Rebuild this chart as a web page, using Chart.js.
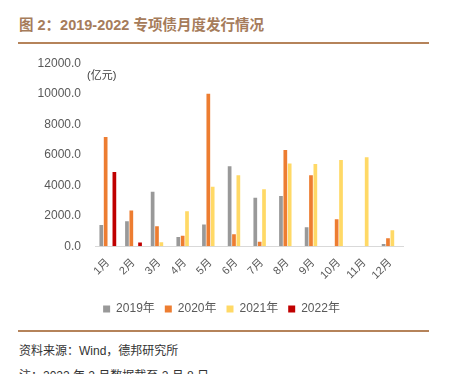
<!DOCTYPE html>
<html>
<head>
<meta charset="utf-8">
<script src="https://cdn.jsdelivr.net/npm/chart.js@4"></script>
<style>
  body { margin: 0; width: 454px; height: 374px; overflow: hidden; background: #fff;
         font-family: "Liberation Sans", "Noto Sans CJK SC", sans-serif; position: relative; }
  .title { position: absolute; left: 19px; top: 13px; font-size: 14.5px; font-weight: bold; color: #A67C5B; }
  .rule { position: absolute; left: 18px; width: 411px; height: 2px; background: #B5835A; }
  .unit { position: absolute; left: 87px; top: 66px; font-size: 11px; color: #404040; }
  .src { position: absolute; left: 19px; font-size: 12px; color: #333; }
  #wrap { position: absolute; left: 0; top: 50px; width: 454px; height: 275px; }
</style>
</head>
<body>
<div class="title">图 2：2019-2022 专项债月度发行情况</div>
<div class="rule" style="top:42px"></div>
<div id="wrap"><canvas id="myChart"></canvas></div>
<div class="unit">(亿元)</div>
<div class="rule" style="top:330px"></div>
<div class="src" style="top:341px">资料来源：Wind，德邦研究所</div>
<div class="src" style="top:366px">注：2022 年 2 月数据截至 2 月 8 日</div>
<script>
const months = ['1月', '2月', '3月', '4月', '5月', '6月', '7月', '8月', '9月', '10月', '11月', '12月'];
const y2019 = [1400, 1640, 3570, 610, 1420, 5250, 3180, 3290, 1250, 0, 0, 150];
const y2020 = [7160, 2340, 1310, 680, 10000, 790, 300, 6310, 4660, 1770, 0, 530];
const y2021 = [0, 0, 260, 2300, 3900, 4660, 3740, 5430, 5390, 5650, 5830, 1050];
const y2022 = [4860, 240, null, null, null, null, null, null, null, null, null, null];
const seriesNames = ['2019年', '2020年', '2021年', '2022年'];
const colors = ['#999999', '#ED7D31', '#FFD966', '#C00000'];

const ctx = document.getElementById('myChart').getContext('2d');
const font = { family: '"Liberation Sans", "Noto Sans CJK SC", sans-serif' };

// move the legend so it is centred on the page, not on the plot
const legendShift = {
  id: 'legendShift',
  afterLayout(chart) {
    chart.legend.left += 20;
    chart.legend.right += 20;
  },
};

const chart = new Chart(ctx, {
  type: 'bar',
  data: {
    labels: months,
    datasets: [y2019, y2020, y2021, y2022].map((d, i) => ({
      label: seriesNames[i],
      data: d,
      backgroundColor: colors[i],
      barPercentage: 0.85,
      categoryPercentage: 0.68,
    })),
  },
  plugins: [legendShift],
  options: {
    responsive: true,
    maintainAspectRatio: false,
    animation: false,
    layout: { padding: { left: 0, right: 51, top: 2 } },
    plugins: {
      legend: {
        position: 'bottom',
        labels: {
          boxWidth: 7,
          boxHeight: 7,
          padding: 10,
          color: '#595959',
          font: { ...font, size: 12 },
        },
      },
      tooltip: { enabled: false },
    },
    scales: {
      x: {
        grid: { display: false },
        border: { color: '#D9D9D9', width: 1 },
        afterFit: (scale) => { scale.height += 9; },
        ticks: {
          maxRotation: 45,
          minRotation: 45,
          color: '#595959',
          font: { ...font, size: 11 },
          padding: 2,
        },
      },
      y: {
        min: 0,
        max: 12000,
        grid: { display: false },
        border: { display: false },
        afterFit: (scale) => { scale.width = 95; },
        ticks: {
          stepSize: 2000,
          padding: 6,
          color: '#595959',
          font: { ...font, size: 12 },
          callback: function (value) {
            return value.toFixed(1);
          },
        },
      },
    },
  },
});
</script>
</body>
</html>
